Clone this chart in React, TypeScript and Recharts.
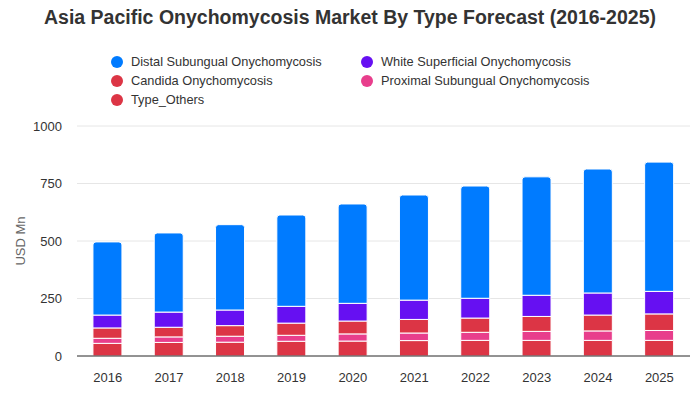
import { Bar, BarChart, CartesianGrid, XAxis, YAxis } from 'recharts';

const YEARS = ['2016', '2017', '2018', '2019', '2020', '2021', '2022', '2023', '2024', '2025'];
const TYPE_OTHERS = [55, 59, 60, 64, 65, 67, 68, 68, 68, 68];
const PROXIMAL = [22, 24, 26, 26, 31, 33, 35, 39, 41, 43];
const CANDIDA = [45, 42, 46, 53, 56, 59, 62, 65, 69, 72];
const WHITE = [56, 66, 68, 73, 77, 84, 86, 92, 96, 98];
const DISTAL = [318, 344, 371, 397, 432, 457, 488, 515, 539, 562];
const Y_TICKS = [0, 250, 500, 750, 1000];

const SERIES = [
  { key: 'others', name: 'Type_Others', color: '#dc3545' },
  { key: 'proximal', name: 'Proximal Subungual Onychomycosis', color: '#e83e8c' },
  { key: 'candida', name: 'Candida Onychomycosis', color: '#dc3545' },
  { key: 'white', name: 'White Superficial Onychomycosis', color: '#6610f2' },
  { key: 'distal', name: 'Distal Subungual Onychomycosis', color: '#007bff' },
];

const LEGEND = [
  { name: 'Distal Subungual Onychomycosis', color: '#007bff', x: 111, y: 54 },
  { name: 'White Superficial Onychomycosis', color: '#6610f2', x: 361, y: 54 },
  { name: 'Candida Onychomycosis', color: '#dc3545', x: 111, y: 73 },
  { name: 'Proximal Subungual Onychomycosis', color: '#e83e8c', x: 361, y: 73 },
  { name: 'Type_Others', color: '#dc3545', x: 111, y: 92 },
];

const data = YEARS.map((year, i) => ({
  year,
  others: TYPE_OTHERS[i],
  proximal: PROXIMAL[i],
  candida: CANDIDA[i],
  white: WHITE[i],
  distal: DISTAL[i],
}));

const font = 'Arial, "Liberation Sans", Helvetica, sans-serif';

export default function App() {
  return (
    <div style={{ position: 'absolute', left: 0, top: 0, width: 700, height: 400, background: '#fff', fontFamily: font }}>
      <div style={{ position: 'absolute', top: 6, left: 0, width: 700, textAlign: 'center', fontSize: 19.5, fontWeight: 'bold', color: '#333' }}>
        Asia Pacific Onychomycosis Market By Type Forecast (2016-2025)
      </div>
      {LEGEND.map((l) => (
        <div key={l.name} style={{ position: 'absolute', left: l.x, top: l.y, display: 'flex', alignItems: 'center', fontSize: 12.8, color: '#333', whiteSpace: 'nowrap' }}>
          <span style={{ width: 12, height: 12, borderRadius: 6, background: l.color, marginRight: 8, display: 'inline-block' }} />
          {l.name}
        </div>
      ))}
      <div style={{ position: 'absolute', left: 20, top: 241, transform: 'translate(-50%, -50%) rotate(-90deg)', fontSize: 13, color: '#666', whiteSpace: 'nowrap' }}>
        USD Mn
      </div>
      <BarChart
        width={700}
        height={400}
        data={data}
        margin={{ top: 126, right: 10, bottom: 14, left: 20 }}
        barCategoryGap="26%"
        style={{ position: 'absolute', left: 0, top: 0 }}
      >
        <CartesianGrid vertical={false} stroke="#e6e6e6" />
        <XAxis
          dataKey="year"
          height={30}
          tickLine={false}
          tickSize={0}
          tickMargin={17}
          axisLine={{ stroke: '#333' }}
          tick={{ fontSize: 13, fill: '#333', fontFamily: font }}
        />
        <YAxis
          width={57}
          domain={[0, 1000]}
          ticks={Y_TICKS}
          axisLine={false}
          tickLine={false}
          tickSize={0}
          tickMargin={15}
          tick={{ fontSize: 13, fill: '#333', fontFamily: font }}
        />
        {SERIES.map((s, i) => (
          <Bar
            key={s.key}
            dataKey={s.key}
            name={s.name}
            stackId="a"
            fill={s.color}
            stroke="#fff"
            strokeWidth={1}
            radius={i === SERIES.length - 1 ? [3, 3, 0, 0] : 0}
            isAnimationActive={false}
          />
        ))}
      </BarChart>
    </div>
  );
}
